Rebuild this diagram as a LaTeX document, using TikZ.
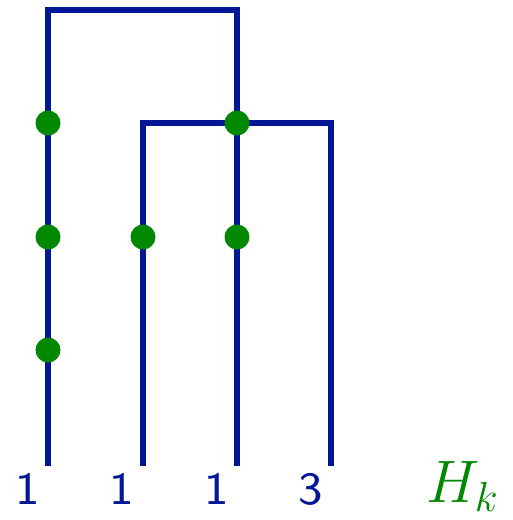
\RequirePackage{fix-cm}
\documentclass[tikz,border=0pt]{standalone}
\usepackage{fontspec}
\newfontfamily\labfont{lmsans8-regular.otf}
\definecolor{dblue}{RGB}{0,24,150}
\definecolor{dgreen}{RGB}{0,136,0}
\begin{document}
\begin{tikzpicture}[x=1pt,y=-1pt,
  br/.style={draw=dblue,line width=5.2pt},
  dot/.style={circle,fill=dgreen,inner sep=0pt,minimum size=25pt},
  lab/.style={text=dblue,font=\labfont\fontsize{46}{56}\selectfont,anchor=base,inner sep=0pt}]
\useasboundingbox (0,0) rectangle (512,520);
\coordinate (a) at (48,466);
\coordinate (b) at (143,466);
\coordinate (c) at (237,466);
\coordinate (d) at (331,466);
\coordinate (t1) at (48,10);
\coordinate (t2) at (237,10);
\coordinate (u1) at (143,123);
\coordinate (u2) at (331,123);
\draw[br] (a) -- (t1) -- (t2) -- (c);
\draw[br] (b) -- (u1) -- (u2) -- (d);
\node[dot] (p1) at (48,123) {};
\node[dot] (p2) at (48,237) {};
\node[dot] (p3) at (48,350) {};
\node[dot] (p4) at (143,237) {};
\node[dot] (p5) at (237,123) {};
\node[dot] (p6) at (237,237) {};
\node[lab] (l1) at (28,504) {1};
\node[lab] (l2) at (122,504) {1};
\node[lab] (l3) at (217,504) {1};
\node[lab] (l4) at (311,504) {3};
\node[text=dgreen,anchor=base west,inner sep=0pt,font=\fontsize{60}{72}\selectfont] (h) at (426,502) {$H_k$};
\end{tikzpicture}
\end{document}
